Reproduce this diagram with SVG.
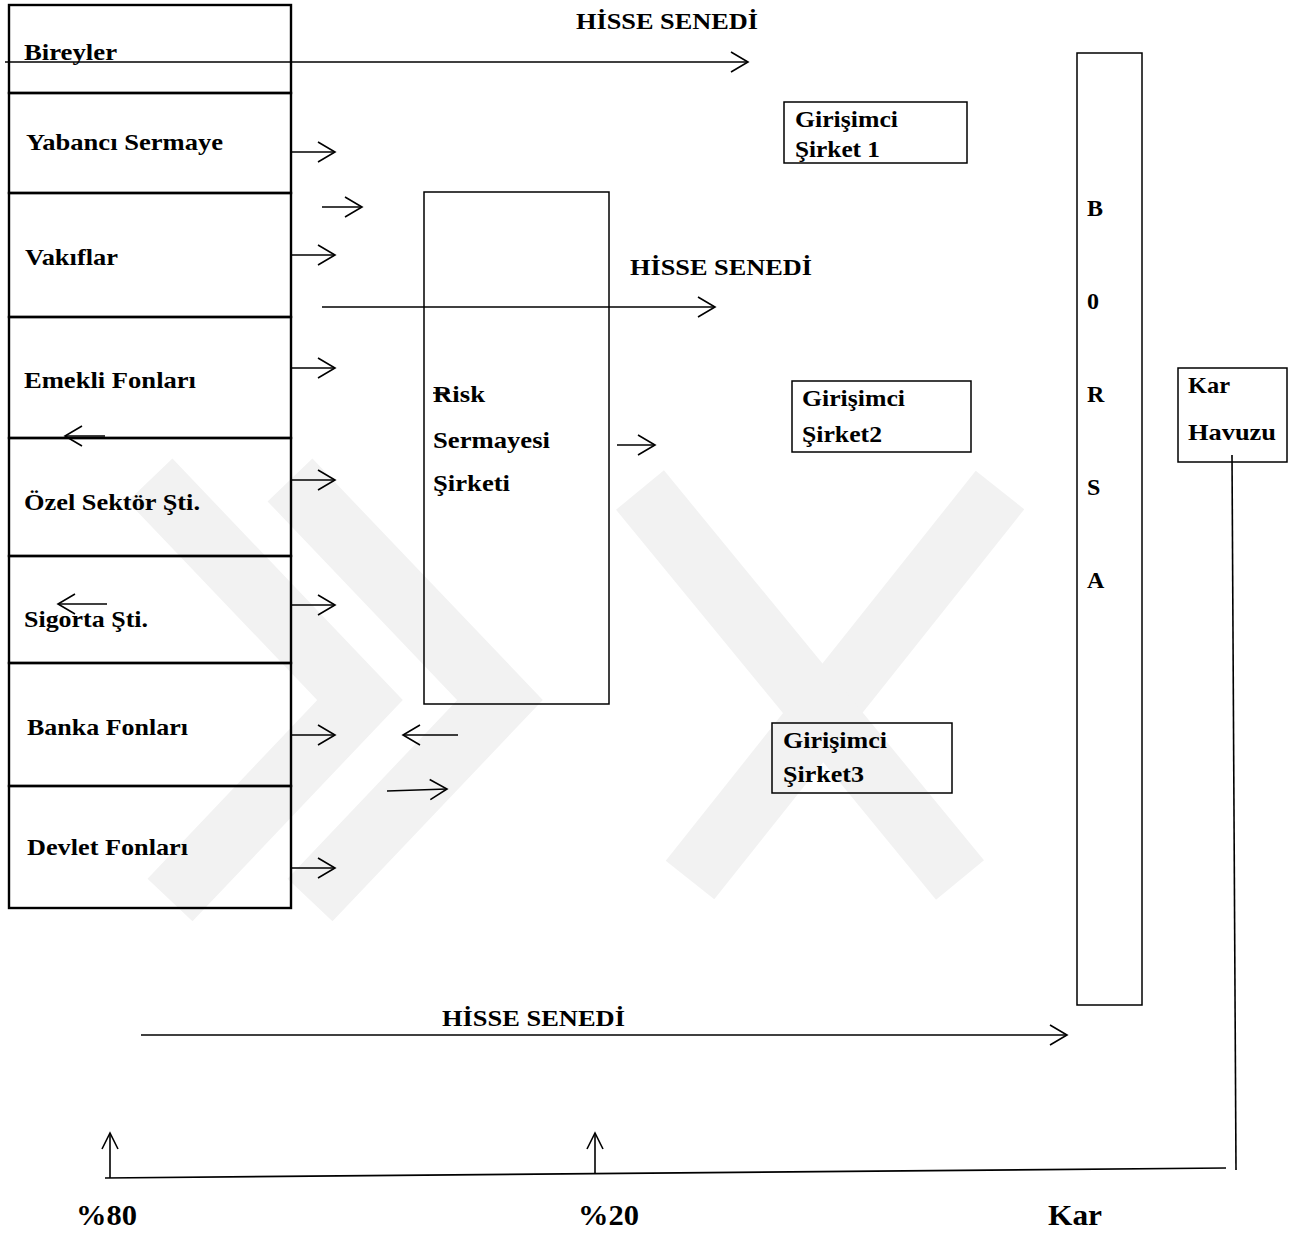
<svg xmlns="http://www.w3.org/2000/svg" width="1297" height="1234" viewBox="0 0 1297 1234">
<defs>
<marker id="ah" markerUnits="userSpaceOnUse" orient="auto" refX="0" refY="0" markerWidth="1" markerHeight="1" overflow="visible">
<path d="M-17,-10 L0,0 L-17,10" fill="none" stroke="#000" stroke-width="1.6"/>
</marker>
<marker id="ahs" markerUnits="userSpaceOnUse" orient="auto" refX="0" refY="0" markerWidth="1" markerHeight="1" overflow="visible">
<path d="M-16,-8 L0,0 L-16,8" fill="none" stroke="#000" stroke-width="1.6"/>
</marker>
</defs>
<style>
.wm{fill:none;stroke:#f2f2f2;stroke-width:62;stroke-linecap:butt;stroke-linejoin:miter}
.box{fill:none;stroke:#000;stroke-width:1.5}
.stack{fill:none;stroke:#000;stroke-width:2.4}
.t{font-family:"Liberation Serif","Times New Roman",Times,serif;font-weight:bold;font-size:24px;fill:#000}
.big{font-size:30px}
.con{fill:none;stroke:#000;stroke-width:1.6}
.arr{marker-end:url(#ah)}
</style>
<rect width="1297" height="1234" fill="#fff"/>
<g id="watermark">
<polyline class="wm" points="150,480 360,700 170,900"/>
<polyline class="wm" points="290,480 500,700 310,900"/>
<line class="wm" x1="1000" y1="490" x2="690" y2="880"/>
<line class="wm" x1="640" y1="490" x2="960" y2="880"/>
</g>
<g id="n-bireyler"><rect class="stack" x="9" y="5" width="282" height="88"/><text class="t" x="24" y="60" textLength="93" lengthAdjust="spacingAndGlyphs">Bireyler</text></g>
<g id="n-yabanci"><rect class="stack" x="9" y="93" width="282" height="100"/><text class="t" x="26" y="150" textLength="197" lengthAdjust="spacingAndGlyphs">Yabancı Sermaye</text></g>
<g id="n-vakiflar"><rect class="stack" x="9" y="193" width="282" height="124"/><text class="t" x="25" y="265" textLength="93" lengthAdjust="spacingAndGlyphs">Vakıflar</text></g>
<g id="n-emekli"><rect class="stack" x="9" y="317" width="282" height="121"/><text class="t" x="24" y="388" textLength="172" lengthAdjust="spacingAndGlyphs">Emekli Fonları</text></g>
<g id="n-ozel"><rect class="stack" x="9" y="438" width="282" height="118"/><text class="t" x="24" y="510" textLength="176" lengthAdjust="spacingAndGlyphs">Özel Sektör Şti.</text></g>
<g id="n-sigorta"><rect class="stack" x="9" y="556" width="282" height="107"/><text class="t" x="24" y="627" textLength="124" lengthAdjust="spacingAndGlyphs">Sigorta Şti.</text></g>
<g id="n-banka"><rect class="stack" x="9" y="663" width="282" height="123"/><text class="t" x="27" y="735" textLength="161" lengthAdjust="spacingAndGlyphs">Banka Fonları</text></g>
<g id="n-devlet"><rect class="stack" x="9" y="786" width="282" height="122"/><text class="t" x="27" y="855" textLength="161" lengthAdjust="spacingAndGlyphs">Devlet Fonları</text></g>
<g id="n-risk"><rect class="box" x="424" y="192" width="185" height="512"/>
<text class="t" x="433" y="402" textLength="52" lengthAdjust="spacingAndGlyphs">Risk</text>
<line x1="433" y1="393" x2="450" y2="393" stroke="#000" stroke-width="1.5"/>
<text class="t" x="433" y="448" textLength="117" lengthAdjust="spacingAndGlyphs">Sermayesi</text>
<text class="t" x="433" y="491" textLength="77" lengthAdjust="spacingAndGlyphs">Şirketi</text></g>
<g id="n-g1"><rect class="box" x="784" y="102" width="183" height="61"/>
<text class="t" x="795" y="127" textLength="103" lengthAdjust="spacingAndGlyphs">Girişimci</text>
<text class="t" x="795" y="157" textLength="85" lengthAdjust="spacingAndGlyphs">Şirket 1</text></g>
<g id="n-g2"><rect class="box" x="792" y="381" width="179" height="71"/>
<text class="t" x="802" y="406" textLength="103" lengthAdjust="spacingAndGlyphs">Girişimci</text>
<text class="t" x="802" y="442" textLength="80" lengthAdjust="spacingAndGlyphs">Şirket2</text></g>
<g id="n-g3"><rect class="box" x="772" y="723" width="180" height="70"/>
<text class="t" x="783" y="748" textLength="104" lengthAdjust="spacingAndGlyphs">Girişimci</text>
<text class="t" x="783" y="782" textLength="81" lengthAdjust="spacingAndGlyphs">Şirket3</text></g>
<g id="n-borsa"><rect class="box" x="1077" y="53" width="65" height="952"/>
<text class="t" x="1087" y="216">B</text>
<text class="t" x="1087" y="309">0</text>
<text class="t" x="1087" y="402">R</text>
<text class="t" x="1087" y="495">S</text>
<text class="t" x="1087" y="588">A</text></g>
<g id="n-kar"><rect class="box" x="1178" y="368" width="109" height="94"/>
<text class="t" x="1188" y="393" textLength="42" lengthAdjust="spacingAndGlyphs">Kar</text>
<text class="t" x="1188" y="440" textLength="88" lengthAdjust="spacingAndGlyphs">Havuzu</text></g>
<g id="labels">
<text class="t" x="576" y="29" textLength="182" lengthAdjust="spacingAndGlyphs">HİSSE SENEDİ</text>
<text class="t" x="630" y="275" textLength="182" lengthAdjust="spacingAndGlyphs">HİSSE SENEDİ</text>
<text class="t" x="442" y="1026" textLength="183" lengthAdjust="spacingAndGlyphs">HİSSE SENEDİ</text>
<text class="t big" x="76" y="1225" textLength="61" lengthAdjust="spacingAndGlyphs">%80</text>
<text class="t big" x="578" y="1225" textLength="61" lengthAdjust="spacingAndGlyphs">%20</text>
<text class="t big" x="1048" y="1225" textLength="54" lengthAdjust="spacingAndGlyphs">Kar</text>
</g>
<g id="connectors">
<line class="con arr" x1="5" y1="62" x2="748" y2="62"/>
<line class="con arr" x1="291" y1="152" x2="335" y2="152"/>
<line class="con arr" x1="322" y1="207" x2="362" y2="207"/>
<line class="con arr" x1="291" y1="255" x2="335" y2="255"/>
<line class="con arr" x1="322" y1="307" x2="715" y2="307"/>
<line class="con arr" x1="291" y1="368" x2="335" y2="368"/>
<line class="con arr" x1="105" y1="436" x2="65" y2="436"/>
<line class="con arr" x1="291" y1="480" x2="335" y2="480"/>
<line class="con arr" x1="107" y1="604" x2="58" y2="604"/>
<line class="con arr" x1="291" y1="605" x2="335" y2="605"/>
<line class="con arr" x1="617" y1="445" x2="655" y2="445"/>
<line class="con arr" x1="291" y1="735" x2="335" y2="735"/>
<line class="con arr" x1="458" y1="735" x2="403" y2="735"/>
<line class="con arr" x1="387" y1="791" x2="447" y2="789"/>
<line class="con arr" x1="291" y1="868" x2="335" y2="868"/>
<line class="con arr" x1="141" y1="1035" x2="1067" y2="1035"/>
<line class="con" x1="1232" y1="455" x2="1236" y2="1170"/>
<line class="con" x1="105" y1="1178" x2="1226" y2="1168"/>
<line class="con" x1="110" y1="1178" x2="110" y2="1133" marker-end="url(#ahs)"/>
<line class="con" x1="595" y1="1174" x2="595" y2="1133" marker-end="url(#ahs)"/>
</g>
</svg>
